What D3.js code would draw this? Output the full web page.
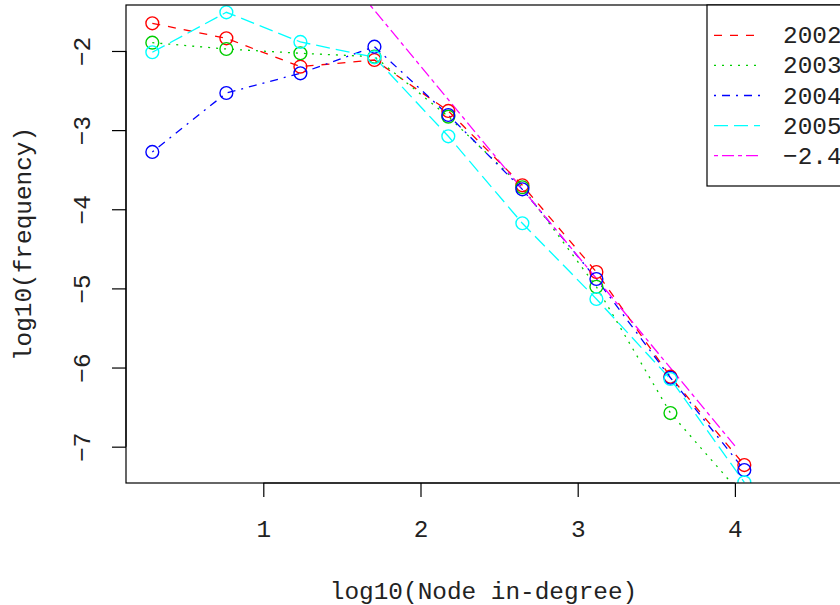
<!DOCTYPE html>
<html><head><meta charset="utf-8">
<script src="https://cdn.jsdelivr.net/npm/d3@7"></script>
<style>
html,body{margin:0;padding:0;background:#fff;overflow:hidden;}
text{font-family:"Liberation Mono","Courier New",monospace;}
</style></head>
<body>
<svg id="c" width="840" height="605"></svg>
<script>
// ---- data ----
const logDegree = [0.294, 0.765, 1.236, 1.707, 2.177, 2.648, 3.119, 3.590, 4.060];
const y2002 = [-1.650, -1.840, -2.198, -2.114, -2.758, -3.697, -4.793, -6.116, -7.232];
const y2003 = [-1.895, -1.975, -2.029, -2.072, -2.830, -3.722, -4.979, -6.575, -7.644];
const y2004 = [-3.276, -2.531, -2.282, -1.946, -2.809, -3.748, -4.881, -6.129, -7.295];
const y2005 = [-2.016, -1.511, -1.886, -2.080, -3.078, -4.177, -5.134, -6.145, -7.451];
const refSlope = -2.4, refIntercept = 2.61;
const refX = [1.0, 4.0];
const xTicks = [1, 2, 3, 4];
const yTicks = [-2, -3, -4, -5, -6, -7];
const legendLabels = ["2002", "2003", "2004", "2005", "\u22122.4"];

const series = [
  {name:"2002", vals:y2002, color:"#ff0000", dash:"8,8"},
  {name:"2003", vals:y2003, color:"#00cd00", dash:"2,6"},
  {name:"2004", vals:y2004, color:"#0000ff", dash:"2,6,8,6"},
  {name:"2005", vals:y2005, color:"#00ffff", dash:"14,6"}
];
const refColor = "#ff00ff", refDash = "4,4,12,4";

const FS = "24.4px", TXT = "#222";
const svg = d3.select("#c");
const L = 126, R = 841, T = 5, B = 483;
const x = d3.scaleLinear().domain([0.1266, 4.675]).range([L, R]);
const y = d3.scaleLinear().domain([-7.459, -1.419]).range([B, T]);

svg.append("defs").append("clipPath").attr("id","clip")
  .append("rect").attr("x",L).attr("y",T).attr("width",R-L).attr("height",B-T);

const g = svg.append("g").attr("clip-path","url(#clip)");
const line = d3.line().x(d=>x(d[0])).y(d=>y(d[1]));

series.forEach(s=>{
  const pts = logDegree.map((v,i)=>[v, s.vals[i]]);
  g.append("path").attr("d", line(pts)).attr("fill","none")
    .attr("stroke", s.color).attr("stroke-width",1.3).attr("stroke-dasharray", s.dash);
});
// reference line
g.append("path").attr("d", line(refX.map(v=>[v, refIntercept + refSlope*v])))
  .attr("fill","none").attr("stroke",refColor).attr("stroke-width",1.3).attr("stroke-dasharray",refDash);
// points
series.forEach(s=>{
  g.selectAll(null).data(logDegree.map((v,i)=>[v, s.vals[i]])).enter().append("circle")
    .attr("cx", d=>x(d[0])).attr("cy", d=>y(d[1])).attr("r", 6.4)
    .attr("fill","none").attr("stroke", s.color).attr("stroke-width",1.4);
});

// box
svg.append("rect").attr("x",L).attr("y",T).attr("width",R-L).attr("height",B-T)
  .attr("fill","none").attr("stroke","#000").attr("stroke-width",1.2);

// x axis
const xa = svg.append("g").attr("transform",`translate(0,${B})`)
  .call(d3.axisBottom(x).tickValues(xTicks).tickSize(14).tickFormat(d3.format("d")));
xa.select(".domain").remove();
xa.selectAll(".tick line").attr("stroke","#000").attr("stroke-width",1.2);
xa.selectAll(".tick text").attr("y",54).attr("dy",0).attr("fill",TXT)
  .style("font-size",FS).style("font-family","'Liberation Mono',monospace");
xa.append("line").attr("x1",x(xTicks[0])).attr("x2",x(xTicks[xTicks.length-1]))
  .attr("stroke","#000").attr("stroke-width",1.2);

// y axis
const ya = svg.append("g").attr("transform",`translate(${L},0)`)
  .call(d3.axisLeft(y).tickValues(yTicks).tickSize(14).tickFormat(d=>"\u2212"+Math.abs(d)));
ya.select(".domain").remove();
ya.selectAll(".tick line").attr("stroke","#000").attr("stroke-width",1.2);
ya.selectAll(".tick text").attr("x",0).attr("dy",0).attr("fill",TXT)
  .attr("text-anchor","middle")
  .attr("transform","translate(-36,0) rotate(-90)")
  .style("font-size",FS).style("font-family","'Liberation Mono',monospace");
ya.append("line").attr("y1",y(yTicks[0])).attr("y2",y(yTicks[yTicks.length-1]))
  .attr("stroke","#000").attr("stroke-width",1.2);

// titles
svg.append("text").attr("x",(L+R)/2).attr("y",599).attr("text-anchor","middle")
  .style("font-size",FS).attr("fill",TXT).text("log10(Node in-degree)");
svg.append("text").attr("transform",`translate(31,${(T+B)/2}) rotate(-90)`).attr("text-anchor","middle")
  .style("font-size",FS).attr("fill",TXT).text("log10(frequency)");

// legend
const lg = svg.append("g");
lg.append("rect").attr("x",707).attr("y",T).attr("width",200).attr("height",186-T)
  .attr("fill","#fff").attr("stroke","#000").attr("stroke-width",1.2);
const legItems = series.map(s=>({color:s.color, dash:s.dash})).concat([{color:refColor, dash:refDash}]);
legItems.forEach((it,i)=>{
  const yy = 35.3 + 30.1*i;
  lg.append("line").attr("x1",714).attr("x2",760).attr("y1",yy).attr("y2",yy)
    .attr("stroke",it.color).attr("stroke-width",1.3).attr("stroke-dasharray",it.dash);
  lg.append("text").attr("x",783).attr("y",yy+8).style("font-size",FS)
    .attr("fill",TXT).text(legendLabels[i]);
});
</script>
</body></html>
